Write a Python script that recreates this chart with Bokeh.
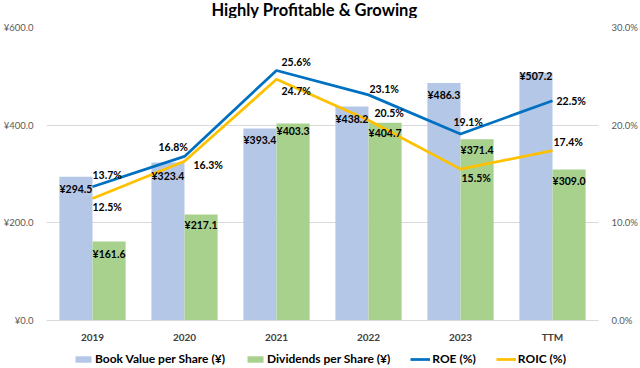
from bokeh.plotting import figure
from bokeh.layouts import column
from bokeh.models import (ColumnDataSource, Range1d, LinearAxis, FixedTicker,
                          PrintfTickFormatter, Legend, LegendItem, FactorRange,
                          Label)
from bokeh.transform import dodge
from bokeh.core.properties import value
from bokeh.embed import file_html
from bokeh.resources import INLINE

# ---- data ----
title_text = "Highly Profitable & Growing"
categories = ["2019", "2020", "2021", "2022", "2023", "TTM"]
book_value = [294.5, 323.4, 393.4, 438.2, 486.3, 507.2]
dividends = [161.6, 217.1, 403.3, 404.7, 371.4, 309.0]
roe = [13.7, 16.8, 25.6, 23.1, 19.1, 22.5]
roic = [12.5, 16.3, 24.7, 20.5, 15.5, 17.4]
left_ticks = [0, 200, 400, 600]
right_ticks = [0, 10, 20, 30]
series_names = ["Book Value per Share (¥)", "Dividends per Share (¥)",
                "ROE (%)", "ROIC (%)"]

# ---- label offsets (style, screen px) ----
book_dy = [12, 13, 12, 12, 12, 3]
div_dy = [12, 11, 7, 10, 11, 11]
roe_dx = [0, -26, 5, 1, -7, 4]
roe_dy = [-12, -9, -8, -6, -12, 0]
roic_dx = [0, 9, 5, 6, 1, 1]
roic_dy = [9, 4, 12, -7, 9, -9]

FONT = "Lato"
BLUE_BAR = "#B4C7E7"
GREEN_BAR = "#A9D18E"
ROE_C = "#0070C0"
ROIC_C = "#FFC000"

src = ColumnDataSource(dict(
    cat=categories, book=book_value, div=dividends, roe=roe, roic=roic,
    book_lbl=[f"¥{v:.1f}" for v in book_value],
    div_lbl=[f"¥{v:.1f}" for v in dividends],
    roe_lbl=[f"{v:.1f}%" for v in roe],
    roic_lbl=[f"{v:.1f}%" for v in roic],
    book_dy=book_dy, div_dy=div_dy,
    roe_dx=roe_dx, roe_dy=roe_dy, roic_dx=roic_dx, roic_dy=roic_dy,
))

# ---- title strip ----
tt = figure(width=624, height=18, output_backend="svg", toolbar_location=None,
            x_range=Range1d(0, 624), y_range=Range1d(0, 18),
            min_border=0, outline_line_color=None)
tt.axis.visible = False
tt.grid.visible = False
tt.add_layout(Label(x=312, y=9, text=title_text, text_align="center",
                    text_baseline="middle", text_font=FONT,
                    text_font_size="16.5px", text_font_style="bold",
                    text_color="#000000"))

# ---- main chart ----
p = figure(frame_width=552, frame_height=293, output_backend="svg",
           toolbar_location=None,
           x_range=FactorRange(*categories, range_padding=0),
           y_range=Range1d(0, 600),
           min_border_left=38, min_border_right=34, min_border_top=9,
           min_border_bottom=20)
p.extra_y_ranges = {"pct": Range1d(0, 30)}

p.outline_line_color = None
p.xgrid.grid_line_color = None
p.ygrid.grid_line_color = "#D9D9D9"
p.ygrid.ticker = FixedTicker(ticks=left_ticks)

# left axis
la = p.yaxis[0]
la.ticker = FixedTicker(ticks=left_ticks)
la.formatter = PrintfTickFormatter(format="¥%.1f")
la.axis_line_color = None
la.major_tick_line_color = None
la.minor_tick_line_color = None
la.major_label_text_font = FONT
la.major_label_text_font_size = "9.5px"
la.major_label_text_color = "#595959"
la.major_label_standoff = 7

# right axis
ra = LinearAxis(y_range_name="pct", ticker=FixedTicker(ticks=right_ticks),
                formatter=PrintfTickFormatter(format="%.1f%%"))
ra.axis_line_color = None
ra.major_tick_line_color = None
ra.minor_tick_line_color = None
ra.major_label_text_font = FONT
ra.major_label_text_font_size = "9.5px"
ra.major_label_text_color = "#595959"
ra.major_label_standoff = 7
p.add_layout(ra, "right")

# x axis
xa = p.xaxis[0]
xa.axis_line_color = "#D9D9D9"
xa.major_tick_line_color = None
xa.minor_tick_line_color = None
xa.major_label_text_font = FONT
xa.major_label_text_font_size = "10px"
xa.major_label_text_font_style = "bold"
xa.major_label_text_color = "#404040"
xa.major_label_standoff = 4

# bars
b1 = p.vbar(x=dodge("cat", -0.18, range=p.x_range), top="book", width=0.36,
            source=src, fill_color=BLUE_BAR, line_color=None)
b2 = p.vbar(x=dodge("cat", 0.18, range=p.x_range), top="div", width=0.36,
            source=src, fill_color=GREEN_BAR, line_color=None)

# lines
l1 = p.line(x="cat", y="roe", y_range_name="pct", source=src,
            line_color=ROE_C, line_width=2.75)
l2 = p.line(x="cat", y="roic", y_range_name="pct", source=src,
            line_color=ROIC_C, line_width=2.75)

# data labels
common = dict(text_font=value(FONT), text_font_size="10.5px",
              text_font_style="bold", text_color="#000000",
              text_baseline="middle", source=src)
p.text(x=dodge("cat", -0.18, range=p.x_range), y="book", text="book_lbl",
       y_offset="book_dy", text_align="center", **common)
p.text(x=dodge("cat", 0.18, range=p.x_range), y="div", text="div_lbl",
       y_offset="div_dy", text_align="center", **common)
p.text(x="cat", y="roe", text="roe_lbl", y_range_name="pct",
       x_offset="roe_dx", y_offset="roe_dy", text_align="left", **common)
p.text(x="cat", y="roic", text="roic_lbl", y_range_name="pct",
       x_offset="roic_dx", y_offset="roic_dy", text_align="left", **common)

# ---- legend strip below the chart ----
lg = figure(width=624, height=24, output_backend="svg", toolbar_location=None,
            x_range=Range1d(0, 624), y_range=Range1d(0, 24),
            min_border=0, outline_line_color=None)
lg.axis.visible = False
lg.grid.visible = False
# off-screen stand-in glyphs that only provide legend swatches
e1 = lg.vbar(x=[-50], top=[1], width=1, fill_color=BLUE_BAR, line_color=None)
e2 = lg.vbar(x=[-50], top=[1], width=1, fill_color=GREEN_BAR, line_color=None)
e3 = lg.line(x=[-60, -50], y=[1, 1], line_color=ROE_C, line_width=2.75)
e4 = lg.line(x=[-60, -50], y=[1, 1], line_color=ROIC_C, line_width=2.75)
legend = Legend(items=[LegendItem(label=n, renderers=[r]) for n, r in
                       zip(series_names, [e1, e2, e3, e4])],
                orientation="horizontal", location=(27, 3))
legend.label_text_font = FONT
legend.label_text_font_size = "12px"
legend.label_text_font_style = "bold"
legend.label_text_color = "#000000"
legend.glyph_width = 20
legend.glyph_height = 8
legend.label_standoff = 2
legend.spacing = 20
legend.padding = 0
legend.margin = 0
legend.label_height = 14
legend.border_line_color = None
legend.background_fill_alpha = 0
lg.add_layout(legend, "center")

layout = column(tt, p, lg, spacing=0)
open("out.html", "w").write(file_html(layout, INLINE))
